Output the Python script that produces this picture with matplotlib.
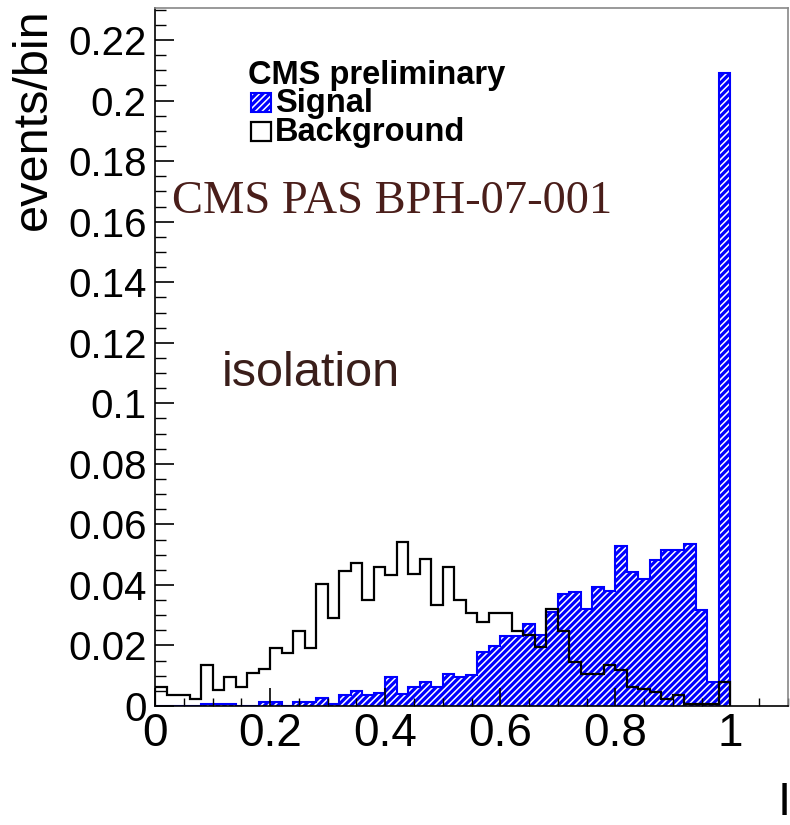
import numpy as np
import matplotlib
matplotlib.use("Agg")
import matplotlib.pyplot as plt
from matplotlib.ticker import MultipleLocator, FuncFormatter
from matplotlib.patches import Rectangle

# bin edges: 50 bins of width 0.02 between 0 and 1
bin_lo = 0.0
bin_hi = 1.0
n_bins = 50

background = [0.0064, 0.0036, 0.0036, 0.0023, 0.0135, 0.0053, 0.0095, 0.0064, 0.0108, 0.0122,
              0.0193, 0.0176, 0.0249, 0.0192, 0.0403, 0.0290, 0.0447, 0.0474, 0.0350, 0.0460,
              0.0432, 0.0543, 0.0436, 0.0487, 0.0333, 0.0460, 0.0350, 0.0306, 0.0278, 0.0306,
              0.0306, 0.0249, 0.0234, 0.0194, 0.0322, 0.0249, 0.0146, 0.0106, 0.0106, 0.0135,
              0.0120, 0.0064, 0.0056, 0.0047, 0.0023, 0.0036, 0.0007, 0.0007, 0.0007, 0.0078]

signal = [0.0, 0.0, 0.0, 0.0, 0.0005, 0.0005, 0.0005, 0.0, 0.0, 0.0012,
          0.0012, 0.0, 0.0012, 0.0012, 0.0025, 0.0005, 0.0036, 0.0050, 0.0036, 0.0043,
          0.0097, 0.0040, 0.0062, 0.0078, 0.0062, 0.0106, 0.0095, 0.0103, 0.0177, 0.0197,
          0.0230, 0.0230, 0.0270, 0.0233, 0.0310, 0.0370, 0.0377, 0.0322, 0.0392, 0.0380,
          0.0527, 0.0443, 0.0418, 0.0481, 0.0514, 0.0514, 0.0536, 0.0317, 0.0078, 0.2090]

edges = np.linspace(bin_lo, bin_hi, n_bins + 1)

plt.rcParams['hatch.linewidth'] = 1.1

fig = plt.figure(figsize=(7.9, 8.25), dpi=100)
ax = fig.add_axes([155/790, (825-706)/825, (788-155)/790, (706-8)/825])

ax.stairs(signal, edges, fill=True, facecolor='#0000ff', edgecolor='white',
          hatch='/////', linewidth=0)
ax.stairs(signal, edges, color='#0000ff', linewidth=1.5, baseline=0)
ax.stairs(background, edges, color='black', linewidth=1.6)

ax.set_xlim(0, 1.1)
ax.set_ylim(0, 0.2306)

ax.xaxis.set_major_locator(MultipleLocator(0.2))
ax.xaxis.set_minor_locator(MultipleLocator(0.05))
ax.yaxis.set_major_locator(MultipleLocator(0.02))
ax.yaxis.set_minor_locator(MultipleLocator(0.005))

def fmt(v, pos):
    s = f"{v:.2f}".rstrip('0').rstrip('.')
    return s if s else "0"

ax.xaxis.set_major_formatter(FuncFormatter(fmt))
ax.yaxis.set_major_formatter(FuncFormatter(fmt))

ax.tick_params(axis='both', which='both', direction='in', top=False, right=False)
ax.tick_params(axis='y', which='major', length=14, width=1.2, labelsize=29, pad=6)
ax.tick_params(axis='y', which='minor', length=8, width=1.0)
ax.tick_params(axis='x', which='major', length=13, width=1.2, labelsize=33, pad=4)
ax.tick_params(axis='x', which='minor', length=6, width=1.0)
for lab in ax.get_xticklabels() + ax.get_yticklabels():
    lab.set_fontfamily('Liberation Sans')

for sp in ax.spines.values():
    sp.set_linewidth(1.2)
ax.spines['top'].set_color('#888888')
ax.spines['right'].set_color('#888888')

fig.text(33/790, 1 - 8/825, 'events/bin', rotation=90, ha='center', va='top',
         fontsize=35, family='Liberation Sans')
fig.text(784/790, 0.0, 'I', ha='center', va='bottom', fontsize=34, family='Liberation Sans')

# legend-like block
fig.text(248/790, 1 - 84/825, 'CMS preliminary', fontsize=23.5, fontweight='bold',
         family='Liberation Sans', ha='left', va='baseline')
r1 = Rectangle((251/790, 1 - 112/825), 20/790, 19/825, transform=fig.transFigure,
               facecolor='#0000ff', edgecolor='white', hatch='/////', linewidth=0)
fig.patches.append(r1)
r1b = Rectangle((251/790, 1 - 112/825), 20/790, 19/825, transform=fig.transFigure,
                facecolor='none', edgecolor='#0000ff', linewidth=1.5)
fig.patches.append(r1b)
r2 = Rectangle((251/790, 1 - 141/825), 20/790, 19/825, transform=fig.transFigure,
               facecolor='none', edgecolor='black', linewidth=1.6)
fig.patches.append(r2)
fig.text(275/790, 1 - 112/825, 'Signal', fontsize=23.5, fontweight='bold',
         family='Liberation Sans', ha='left', va='baseline')
fig.text(275/790, 1 - 141/825, 'Background', fontsize=23.5, fontweight='bold',
         family='Liberation Sans', ha='left', va='baseline')

fig.text(172/790, 1 - 213/825, 'CMS PAS BPH-07-001', fontsize=33.5, color='#4a1e1a',
         family='Liberation Serif', ha='left', va='baseline')
fig.text(222/790, 1 - 386/825, 'isolation', fontsize=35, color='#3a1e1a',
         family='Liberation Sans', ha='left', va='baseline')

fig.savefig('out.png', dpi=100)
